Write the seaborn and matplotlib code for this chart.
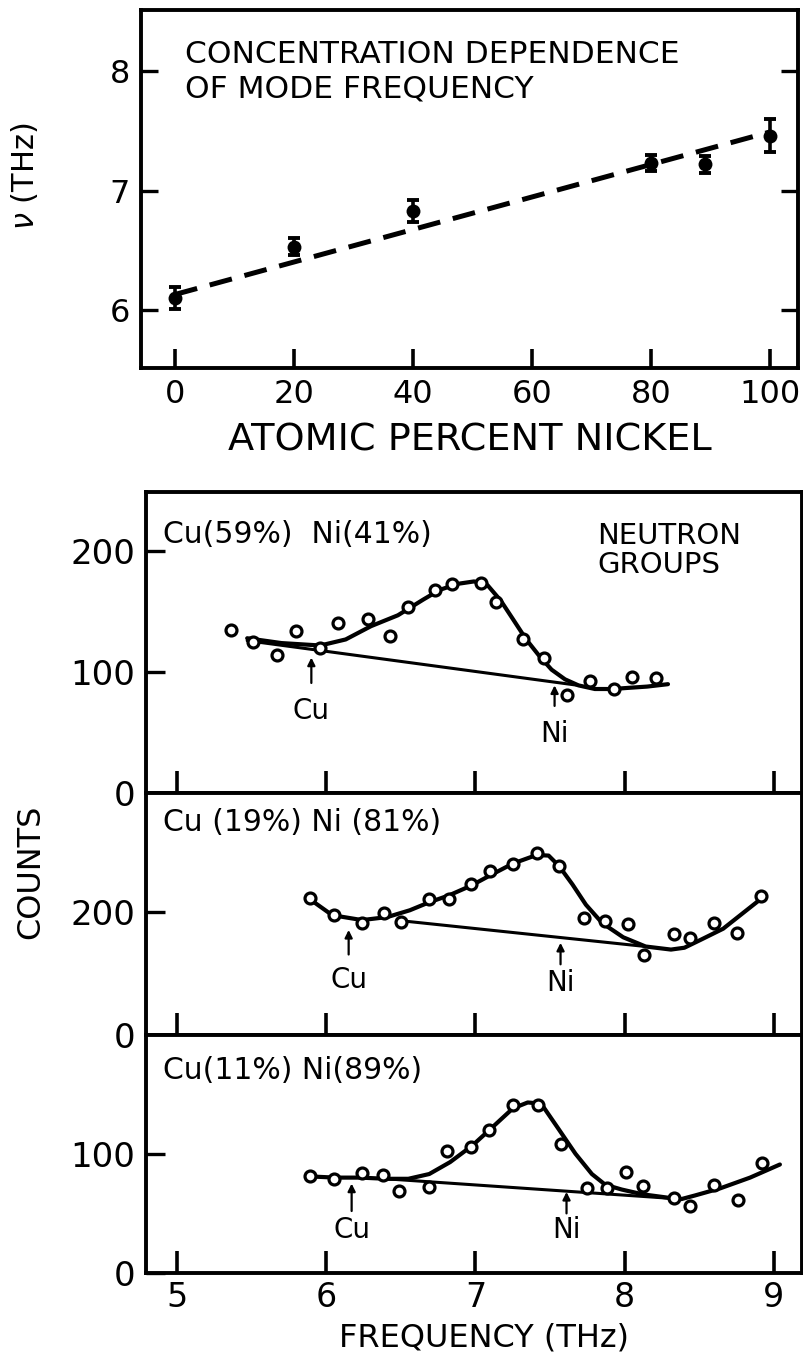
import matplotlib
matplotlib.use("Agg")
import matplotlib.pyplot as plt
import seaborn as sns

# ---- Top panel: mode frequency versus nickel content ----
conc_ni = [0, 20, 40, 80, 89, 100]
mode_thz = [6.10, 6.53, 6.83, 7.23, 7.22, 7.46]
mode_err = [0.09, 0.07, 0.09, 0.07, 0.07, 0.14]
trend_conc = [0, 100]
trend_thz = [6.13, 7.49]
conc_ticks = [0, 20, 40, 60, 80, 100]
thz_ticks = [6, 7, 8]

# ---- Neutron groups, Cu(59%) Ni(41%) ----
f41 = [5.36, 5.51, 5.67, 5.80, 5.96, 6.08, 6.28, 6.43, 6.55, 6.73,
       6.84, 7.04, 7.14, 7.32, 7.46, 7.61, 7.77, 7.93, 8.05, 8.21]
c41 = [135, 125, 114, 134, 120, 141, 144, 130, 154, 168,
       173, 174, 158, 127, 112, 81, 93, 86, 96, 95]
fit_f41 = [5.47, 5.70, 5.96, 6.13, 6.30, 6.48, 6.65, 6.76, 6.88, 6.99, 7.08,
           7.17, 7.25, 7.34, 7.43, 7.51, 7.60, 7.69, 7.80, 7.92, 8.03, 8.15, 8.29]
fit_c41 = [128, 124, 122, 127, 138, 147, 160, 168, 173, 175, 172,
           159, 144, 127, 113, 102, 94, 89, 86, 86, 87, 88, 90]
base_f41 = [5.47, 7.69]
base_c41 = [126, 89]

# ---- Neutron groups, Cu(19%) Ni(81%) ----
f81 = [5.89, 6.05, 6.24, 6.39, 6.50, 6.69, 6.82, 6.97, 7.10, 7.25, 7.41,
       7.56, 7.73, 7.87, 8.02, 8.13, 8.33, 8.44, 8.60, 8.75, 8.91]
c81 = [223, 195, 182, 199, 184, 221, 222, 245, 267, 279, 297,
       275, 191, 185, 181, 130, 164, 158, 182, 166, 227]
fit_f81 = [5.89, 6.04, 6.24, 6.41, 6.56, 6.69, 6.82, 6.97, 7.10, 7.25, 7.41, 7.49,
           7.56, 7.65, 7.74, 7.85, 7.99, 8.14, 8.31, 8.40, 8.51, 8.66, 8.91]
fit_c81 = [221, 195, 187, 192, 203, 216, 227, 243, 260, 279, 293, 292,
           275, 245, 212, 182, 159, 144, 139, 142, 155, 173, 221]
base_f81 = [6.50, 8.14]
base_c81 = [186, 144]

# ---- Neutron groups, Cu(11%) Ni(89%) ----
f89 = [5.89, 6.05, 6.24, 6.38, 6.49, 6.69, 6.81, 6.97, 7.09, 7.25, 7.42,
       7.57, 7.75, 7.88, 8.01, 8.12, 8.33, 8.44, 8.60, 8.76, 8.92]
c89 = [81, 79, 84, 82, 69, 72, 102, 106, 120, 141, 141,
       108, 71, 71, 85, 73, 63, 56, 74, 61, 92]
fit_f89 = [5.89, 6.06, 6.23, 6.40, 6.55, 6.69, 6.83, 6.98, 7.12, 7.25, 7.35, 7.44,
           7.55, 7.67, 7.78, 7.87, 7.98, 8.12, 8.30, 8.38, 8.47, 8.64, 8.84, 9.04]
fit_c89 = [81, 80, 80, 79, 79, 83, 93, 107, 123, 138, 143, 142,
           122, 100, 83, 74, 70, 66, 63, 62, 65, 71, 80, 91]
base_f89 = [6.40, 8.38]
base_c89 = [79, 62]

# Cu and Ni reference frequencies marked by arrows
cu_mark = [5.90, 6.15, 6.17]
ni_mark = [7.53, 7.57, 7.61]
freq_ticks = [5, 6, 7, 8, 9]

panels = [
    dict(f=f41, c=c41, ff=fit_f41, fc=fit_c41, bf=base_f41, bc=base_c41,
         title="Cu(59%)  Ni(41%)", ylim=(0, 249), yticks=[0, 100, 200],
         title_y=214, cu=(112, 91, 68), ni=(89, 72, 49)),
    dict(f=f81, c=c81, ff=fit_f81, fc=fit_c81, bf=base_f81, bc=base_c81,
         title="Cu (19%) Ni (81%)", ylim=(0, 394), yticks=[0, 200],
         title_y=346, cu=(171, 131, 90), ni=(150, 115, 84)),
    dict(f=f89, c=c89, ff=fit_f89, fc=fit_c89, bf=base_f89, bc=base_c89,
         title="Cu(11%) Ni(89%)", ylim=(0, 199.5), yticks=[0, 100],
         title_y=170, cu=(75, 52, 36), ni=(68, 50, 36)),
]

sns.set_style("white")
plt.rcParams["font.family"] = ["DejaVu Sans"]
plt.rcParams.update({
    "text.color": "black",
    "axes.labelcolor": "black",
    "axes.edgecolor": "black",
    "xtick.color": "black",
    "ytick.color": "black",
    "axes.linewidth": 2.8,
})

fig = plt.figure(figsize=(8.04, 13.55), dpi=100)

# ---------------- top panel ----------------
ax0 = fig.add_axes([0.1754, 0.7284, 0.8172, 0.2642])
ax0.errorbar(conc_ni, mode_thz, yerr=mode_err, fmt="none", ecolor="black",
             elinewidth=2.6, capsize=4.5, capthick=2.8, zorder=3)
sns.scatterplot(x=conc_ni, y=mode_thz, ax=ax0, color="black", s=100,
                edgecolor="black", linewidth=0, zorder=4)
sns.lineplot(x=trend_conc, y=trend_thz, ax=ax0, color="black", lw=3.6,
             estimator=None)
ax0.lines[-1].set_dashes([4.6, 2.6])
ax0.set_xlim(-5.7, 104.7)
ax0.set_ylim(5.515, 8.51)
ax0.set_xticks(conc_ticks)
ax0.set_yticks(thz_ticks)
ax0.tick_params(axis="x", direction="in", length=14, width=2.6,
                labelsize=23, pad=8, top=False, bottom=True)
ax0.tick_params(axis="y", direction="in", length=12, width=2.4,
                labelsize=23, pad=8, left=True, right=True)
ax0.set_xlabel("ATOMIC PERCENT NICKEL", fontsize=27.5)
ax0.xaxis.set_label_coords(0.5008, -0.152)
ax0.xaxis.label.set_va("top")
ax0.set_ylabel(r"$\nu$ (THz)", fontsize=22)
ax0.yaxis.set_label_coords(-0.177, 0.536)
ax0.yaxis.label.set_va("center")
ax0.text(1.7, 8.134, "CONCENTRATION DEPENDENCE", fontsize=22.5,
         ha="left", va="center")
ax0.text(1.7, 7.852, "OF MODE FREQUENCY", fontsize=22.5,
         ha="left", va="center")

# ---------------- neutron group panels ----------------
boxes = [
    [0.1816, 0.4148, 0.8159, 0.2221],
    [0.1816, 0.2362, 0.8159, 0.1786],
    [0.1816, 0.0605, 0.8159, 0.1756],
]

axes = []
for i, (p, box) in enumerate(zip(panels, boxes)):
    ax = fig.add_axes(box)
    axes.append(ax)
    sns.lineplot(x=p["bf"], y=p["bc"], ax=ax, color="black", lw=2.2,
                 estimator=None)
    sns.lineplot(x=p["ff"], y=p["fc"], ax=ax, color="black", lw=3.0,
                 estimator=None)
    sns.scatterplot(x=p["f"], y=p["c"], ax=ax, marker="o", s=62,
                    color="white", edgecolor="black", linewidth=2.3,
                    zorder=5)
    ax.set_xlim(4.792, 9.188)
    ax.set_ylim(*p["ylim"])
    ax.set_xticks(freq_ticks)
    ax.set_yticks(p["yticks"])
    ax.tick_params(axis="x", direction="in", length=16, width=2.6,
                   labelsize=24, pad=6, top=False, bottom=True,
                   labelbottom=(i == 2))
    ax.tick_params(axis="y", direction="in", length=14, width=2.4,
                   labelsize=24.5, pad=8, left=True, right=False)

    ax.text(4.905, p["title_y"], p["title"], fontsize=21.5,
            ha="left", va="center")

    cu_tip, cu_tail, cu_lab = p["cu"]
    ni_tip, ni_tail, ni_lab = p["ni"]
    for xm, tip, tail, lab, name in [
        (cu_mark[i], cu_tip, cu_tail, cu_lab, "Cu"),
        (ni_mark[i], ni_tip, ni_tail, ni_lab, "Ni"),
    ]:
        ax.annotate("", xy=(xm, tip), xytext=(xm, tail),
                    arrowprops=dict(arrowstyle="-|>", color="black", lw=1.6,
                                    mutation_scale=11, shrinkA=0, shrinkB=0))
        ax.text(xm, lab, name, fontsize=20, ha="center", va="center")

axes[0].text(7.815, 213, "NEUTRON", fontsize=21, ha="left", va="center")
axes[0].text(7.815, 189, "GROUPS", fontsize=21, ha="left", va="center")

axes[2].set_xlabel("FREQUENCY (THz)", fontsize=23)
axes[2].xaxis.set_label_coords(0.515, -0.21)
axes[2].xaxis.label.set_va("top")

fig.text(0.0386, 0.3567, "COUNTS", fontsize=23, rotation=90,
         ha="center", va="center")

fig.savefig("out.png", dpi=100)
